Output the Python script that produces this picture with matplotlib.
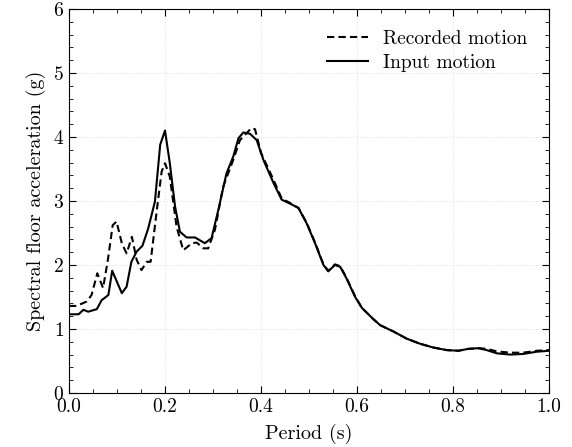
import matplotlib
matplotlib.use("Agg")
import matplotlib.pyplot as plt
from matplotlib.ticker import MultipleLocator

plt.rcParams['font.family'] = 'cmr10'
plt.rcParams['mathtext.fontset'] = 'cm'
plt.rcParams['axes.formatter.use_mathtext'] = True

# input motion (solid)
period_in = [0.0, 0.02, 0.03, 0.04, 0.058, 0.068, 0.082, 0.09, 0.11, 0.12,
             0.13, 0.141, 0.153, 0.165, 0.179, 0.19, 0.2, 0.21, 0.221, 0.231,
             0.245, 0.2625, 0.283, 0.297, 0.311, 0.328, 0.342, 0.353, 0.363, 0.377,
             0.391, 0.405, 0.426, 0.443, 0.46, 0.478, 0.495, 0.5125, 0.53, 0.54,
             0.554, 0.565, 0.578, 0.596, 0.61, 0.633, 0.648, 0.676, 0.703, 0.731,
             0.759, 0.787, 0.811, 0.832, 0.853, 0.87, 0.891, 0.919, 0.946, 0.974, 1.0]
sa_in = [1.23, 1.23, 1.30, 1.27, 1.31, 1.45, 1.53, 1.91, 1.56, 1.66,
         2.05, 2.21, 2.30, 2.57, 2.99, 3.88, 4.10, 3.59, 2.91, 2.52,
         2.43, 2.43, 2.34, 2.42, 2.86, 3.43, 3.69, 3.98, 4.07, 4.05,
         3.95, 3.64, 3.28, 3.02, 2.96, 2.89, 2.65, 2.34, 2.00, 1.90,
         2.00, 1.97, 1.79, 1.50, 1.33, 1.16, 1.06, 0.96, 0.85, 0.77,
         0.71, 0.67, 0.66, 0.69, 0.70, 0.67, 0.62, 0.60, 0.61, 0.645, 0.66]

# recorded motion (dashed)
period_rec = [0.0, 0.016, 0.037, 0.047, 0.059, 0.071, 0.081, 0.091, 0.099, 0.11,
              0.12, 0.131, 0.141, 0.151, 0.162, 0.17, 0.183, 0.193, 0.2, 0.21,
              0.224, 0.238, 0.256, 0.266, 0.28, 0.29, 0.304, 0.321, 0.342, 0.356,
              0.37, 0.38, 0.3875, 0.40, 0.426, 0.443, 0.46, 0.478, 0.495, 0.5125,
              0.53, 0.54, 0.554, 0.565, 0.578, 0.596, 0.61, 0.633, 0.648, 0.676,
              0.703, 0.731, 0.759, 0.787, 0.811, 0.832, 0.853, 0.87, 0.891, 0.919,
              0.946, 0.974, 1.0]
sa_rec = [1.36, 1.36, 1.43, 1.53, 1.87, 1.64, 2.08, 2.62, 2.68, 2.34,
          2.18, 2.44, 2.08, 1.92, 2.05, 2.05, 2.86, 3.46, 3.59, 3.38,
          2.60, 2.23, 2.34, 2.35, 2.26, 2.26, 2.55, 3.22, 3.64, 3.95,
          4.06, 4.14, 4.12, 3.75, 3.33, 3.04, 2.97, 2.89, 2.66, 2.35,
          2.01, 1.91, 2.01, 1.98, 1.80, 1.51, 1.33, 1.16, 1.06, 0.96,
          0.85, 0.77, 0.71, 0.67, 0.66, 0.69, 0.70, 0.69, 0.65, 0.63,
          0.63, 0.66, 0.67]

fig = plt.figure(figsize=(5.72, 4.47), dpi=100)
ax = fig.add_axes([0.1206, 0.1208, 0.8394, 0.8592])

ax.plot(period_rec, sa_rec, color='black', lw=1.5, ls=(0, (3.5, 2)), label='Recorded motion')
ax.plot(period_in, sa_in, color='black', lw=1.5, label='Input motion')

ax.set_xlim(0, 1)
ax.set_ylim(0, 6)
ax.xaxis.set_major_locator(MultipleLocator(0.2))
ax.xaxis.set_minor_locator(MultipleLocator(0.05))
ax.yaxis.set_major_locator(MultipleLocator(1))
ax.yaxis.set_minor_locator(MultipleLocator(0.2))
ax.xaxis.set_major_formatter(plt.FuncFormatter(lambda v, p: '%.1f' % v))
ax.tick_params(which='both', direction='in', top=True, right=True, labelsize=14)
ax.tick_params(which='major', length=5, width=0.8)
ax.tick_params(which='minor', length=3, width=0.6)
ax.grid(True, ls=(0, (2, 2)), color='#e4e4e4', lw=0.6)

ax.set_xlabel('Period (s)', fontsize=14.5, labelpad=6)
ax.set_ylabel('Spectral floor acceleration (g)', fontsize=14.5, labelpad=5)
ax.legend(loc='upper right', frameon=False, fontsize=14, borderaxespad=0.7,
          handlelength=2.1, labelspacing=0.3)

fig.savefig('out.png', dpi=100)
